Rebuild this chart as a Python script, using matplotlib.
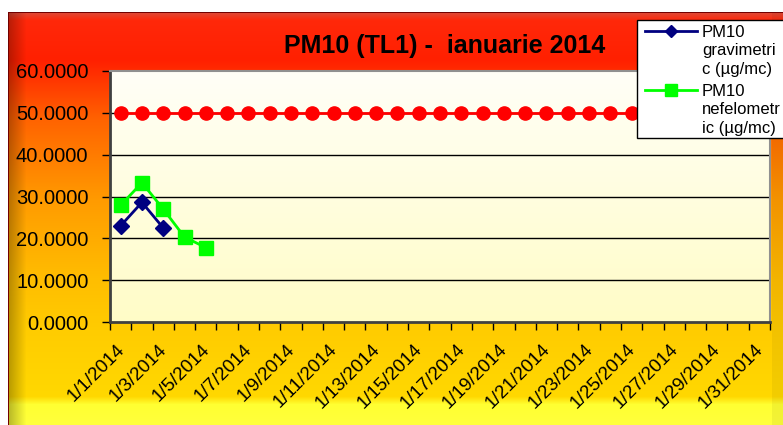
import numpy as np
import matplotlib
matplotlib.use("Agg")
import matplotlib.pyplot as plt
import matplotlib.transforms as mtransforms
from matplotlib.lines import Line2D
from matplotlib.patches import Rectangle

plt.rcParams['font.family'] = ['Liberation Sans', 'DejaVu Sans']

# data
days = [f"1/{d}/2014" for d in range(1, 32)]
limit = [50.0] * 31
gravimetric = [23.0, 28.6, 22.5]
nefelometric = [27.9, 33.3, 27.0, 20.3, 17.8]
yticks = [0, 10, 20, 30, 40, 50, 60]
legend_lines = [["PM10", "gravimetri", "c (µg/mc)"],
                ["PM10", "nefelometr", "ic (µg/mc)"]]

W, H = 783, 425
fig = plt.figure(figsize=(W / 100, H / 100), dpi=100)

# background of the chart area: red -> orange -> yellow, with bevel edges
ys = np.arange(H)
stops_y = [0, 12, 13, 20, 60, 120, 200, 280, 330, 396, 404, 425]
stops_c = np.array([
    [255, 255, 255], [150, 0, 0], [225, 70, 50], [255, 40, 10], [255, 32, 0],
    [255, 100, 0], [255, 155, 0], [255, 190, 0], [255, 204, 0], [255, 216, 0],
    [255, 255, 50], [255, 255, 60]]) / 255.0
col = np.stack([np.interp(ys, stops_y, stops_c[:, i]) for i in range(3)], axis=1)
img = np.repeat(col[:, None, :], W, axis=1)
xs = np.arange(W)
shade = np.ones(W)
left = (xs >= 8) & (xs < 26)
shade[left] = 0.72 + 0.28 * (xs[left] - 8) / 18.0
shade[xs >= 772] = 0.95
img = img * shade[None, :, None]
img[:12, :, :] = 1.0
img[:, :8, :] = 1.0
img[12:, 8, :] = [0.45, 0.0, 0.0]
img[12, 8:, :] = [0.45, 0.0, 0.0]
bg = fig.add_axes([0, 0, 1, 1], zorder=-10)
bg.imshow(np.clip(img, 0, 1), aspect='auto', extent=(0, W, H, 0))
bg.set_axis_off()

ax = fig.add_axes([110 / W, 1 - 322 / H, (770 - 110) / W, (322 - 71) / H])
ax.set_facecolor('none')

# plot area fill: white top to pale yellow bottom
grad = np.linspace(0, 1, 256)[:, None]
top = np.array([1.0, 1.0, 0.97])
bot = np.array([1.0, 0.99, 0.78])
pimg = top[None, None, :] * (1 - grad[:, :, None]) + bot[None, None, :] * grad[:, :, None]
ax.imshow(pimg, aspect='auto', extent=(0.5, 31.5, 0, 60), zorder=0)

x = np.arange(1, 32)
for yv in yticks[1:-1]:
    ax.axhline(yv, color='black', lw=1.0, zorder=1)

ax.plot(x, limit, color='#FF0000', lw=2, marker='o', markersize=9.5,
        markeredgecolor='#FF0000', zorder=3)
ax.plot(x[:len(gravimetric)], gravimetric, color='#000080', lw=2, marker='D',
        markersize=8, zorder=4)
ax.plot(x[:len(nefelometric)], nefelometric, color='#00FF00', lw=2, marker='s',
        markersize=10, zorder=4)

ax.set_xlim(0.5, 31.5)
ax.set_ylim(0, 60)
ax.set_yticks(yticks)
ax.set_yticklabels([f"{v:.4f}" for v in yticks], fontsize=14.5)
ax.set_xticks(np.arange(0.5, 32, 1.0))
ax.set_xticklabels([])
ax.set_xticks(x[::2], minor=True)
ax.set_xticklabels(days[::2], minor=True, rotation=45, ha='right',
                   rotation_mode='anchor', fontsize=13.5)
ax.tick_params(axis='x', which='minor', length=0, pad=13.5)
ax.tick_params(axis='both', which='major', length=6, width=1, direction='out')
ax.tick_params(axis='y', pad=9.5)
shift = mtransforms.ScaledTranslation(-5 / 100, 0, fig.dpi_scale_trans)
for lab in ax.get_xticklabels(minor=True):
    lab.set_transform(lab.get_transform() + shift)
for s in ['left', 'bottom']:
    ax.spines[s].set_color('#404040')
    ax.spines[s].set_linewidth(2)
for s in ['top', 'right']:
    ax.spines[s].set_color('#909090')
    ax.spines[s].set_linewidth(1.5)

fig.text(445 / W, 1 - 46 / H, 'PM10 (TL1) -  ianuarie 2014', ha='center',
         va='center', fontsize=18, fontweight='bold')

# legend box (clipped by the right edge as in the original)
def fx(px):
    return px / W

def fy(py):
    return 1 - py / H

fig.patches.append(Rectangle((fx(637), fy(138)), fx(790) - fx(637), fy(20) - fy(138),
                             transform=fig.transFigure, facecolor='white',
                             edgecolor='black', lw=1, zorder=5))
handles = [dict(color='#000080', marker='D', ms=6), dict(color='#00FF00', marker='s', ms=8)]
for i, (lines, h) in enumerate(zip(legend_lines, handles)):
    y0 = 31 + i * 59
    fig.lines.append(Line2D([fx(645), fx(671), fx(697)], [fy(y0)] * 3,
                            transform=fig.transFigure, color=h['color'], lw=2,
                            marker=h['marker'], markersize=h['ms'], markevery=[1],
                            zorder=6))
    for j, t in enumerate(lines):
        fig.text(fx(702), fy(y0 + 6 + j * 18.5), t, fontsize=12, va='baseline',
                 ha='left', zorder=7)

fig.savefig('out.png', dpi=100)
